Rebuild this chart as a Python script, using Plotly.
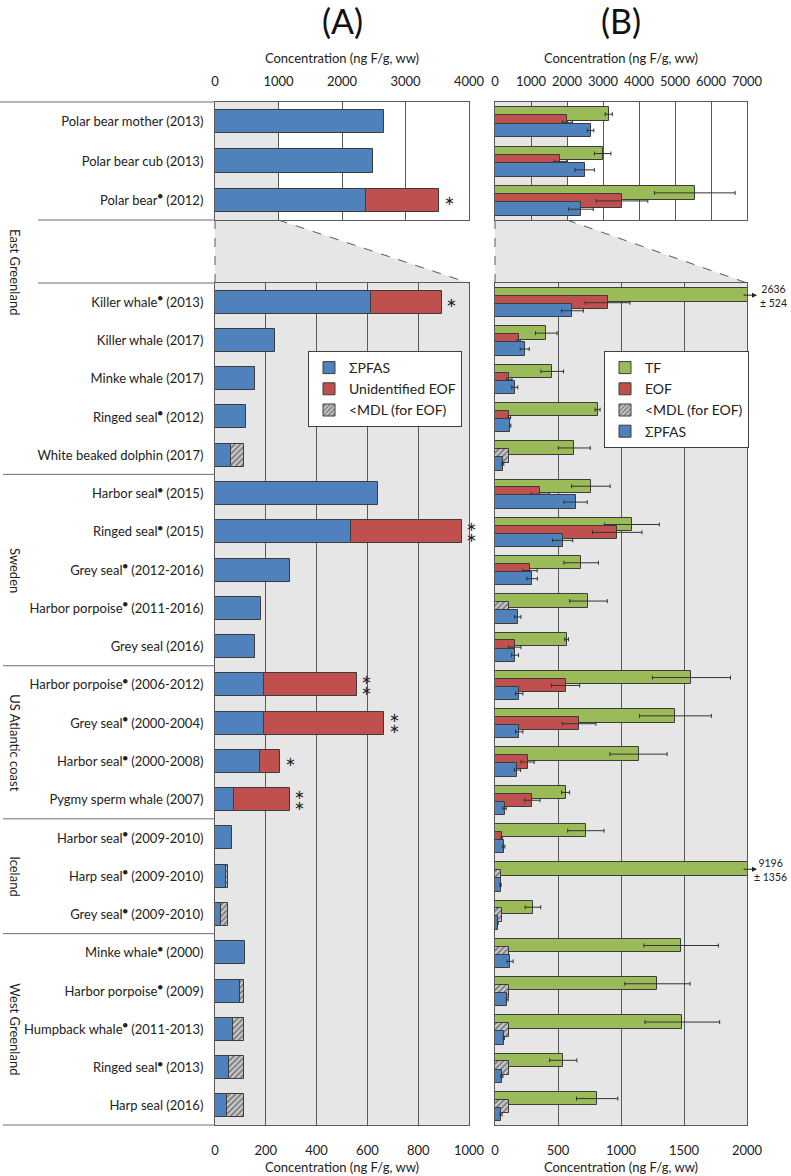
import plotly.graph_objects as go

W, H = 791, 1176
DOT = "<sup>●</sup>"


def px(x):
    return x / W


def py(y):
    return 1 - y / H


# ---- rows -------------------------------------------------------------
top_labels = ["Polar bear mother (2013)", "Polar bear cub (2013)", f"Polar bear{DOT} (2012)"]
bottom_labels = [
    f"Killer whale{DOT} (2013)", "Killer whale (2017)", "Minke whale (2017)",
    f"Ringed seal{DOT} (2012)", "White beaked dolphin (2017)",
    f"Harbor seal{DOT} (2015)", f"Ringed seal{DOT} (2015)", f"Grey seal{DOT} (2012-2016)",
    f"Harbor porpoise{DOT} (2011-2016)", "Grey seal (2016)",
    f"Harbor porpoise{DOT} (2006-2012)", f"Grey seal{DOT} (2000-2004)",
    f"Harbor seal{DOT} (2000-2008)", "Pygmy sperm whale (2007)",
    f"Harbor seal{DOT} (2009-2010)", f"Harp seal{DOT} (2009-2010)", f"Grey seal{DOT} (2009-2010)",
    f"Minke whale{DOT} (2000)", f"Harbor porpoise{DOT} (2009)",
    f"Humpback whale{DOT} (2011-2013)", f"Ringed seal{DOT} (2013)", "Harp seal (2016)",
]
groups = ["East Greenland", "Sweden", "US Atlantic coast", "Iceland", "West Greenland"]
group_sizes = [5, 5, 4, 3, 5]  # rows in the lower panels (East Greenland also owns the top panel)

# ---- values (ng F/g ww) ----------------------------------------------
pfas_top = [2655, 2490, 2385]
pfas_top_sd = [90, 270, 345]
pfas = [614, 236, 157, 121, 62, 640, 537, 294, 181, 159, 192, 192, 178, 76, 68, 44, 22,
        120, 97, 70, 55, 48]
pfas_sd = [87, 36, 24, 5, 8, 92, 80, 42, 25, 28, 29, 29, 25, 13, 10, 5, 3, 24, 8, 5, 8, 8]

eof_top = [2010, 1815, 3530]
eof_top_sd = [140, 175, 715]
eof = [893, 188, 114, 114, None, 359, 970, 277, None, 156, 560, 668, 259, 296, 53,
       None, None, None, None, None, None, None]
eof_sd = [178, 13, 21, 10, None, 73, 196, 58, None, 50, 112, 133, 52, 61, 5,
          None, None, None, None, None, None, None]
eof_mdl = [None, None, None, None, 114, None, None, None, 114, None, None, None, None, None, None,
           50, 53, 114, 114, 114, 114, 114]

tf_top = [3160, 2990, 5550]
tf_top_sd = [100, 230, 1120]
tf = [2636, 407, 454, 814, 629, 761, 1086, 684, 742, 568, 1559, 1432, 1139, 560, 721,
      9196, 301, 1477, 1289, 1487, 542, 811]
tf_sd = [524, 86, 90, 20, 127, 153, 218, 137, 149, 15, 310, 285, 227, 32, 144,
         1356, 62, 296, 259, 296, 108, 164]

# panel A: unidentified EOF and the <MDL part stacked on top of ΣPFAS
unid_top = [None, None, 1150]
unid = [279, None, None, None, None, None, 434, None, None, None, 366, 475, 79, 219,
        None, None, None, None, None, None, None, None]
mdl_a = [None, None, None, None, 52, None, None, None, None, None, None, None, None, None,
         None, 7, 29, None, 17, 44, 59, 66]
sig_top = ["", "", "*"]
sig = ["*", "", "", "", "", "", "**", "", "", "", "**", "**", "*", "**",
       "", "", "", "", "", "", "", ""]

# ---- styling ----------------------------------------------------------
BLUE, RED, GREEN = "#4f81bd", "#c0504d", "#9bbb59"
SHADE = "#e6e6e6"
GRID = "#595959"
EDGE = dict(color="#3c3c3c", width=1)
FONT = "Lato, Open Sans, sans-serif"
HATCH = dict(color="#d0d0d0", line=EDGE,
             pattern=dict(shape="/", fgcolor="#2a2a2a", bgcolor="#d0d0d0", size=4, solidity=0.5))

XA = [px(215), px(469)]
XB = [px(495), px(747)]
YT = [py(220), py(102)]
YB = [py(1125), py(283)]


def err(vals):
    return dict(type="data", array=vals, color="#333333", thickness=1, width=2)


fig = go.Figure()

# panel A, top + bottom (manual stacking via base)
for ax, labels, p, u, m, first in [("", top_labels, pfas_top, unid_top, None, False),
                                   ("2", bottom_labels, pfas, unid, mdl_a, True)]:
    fig.add_trace(go.Bar(y=labels, x=p, orientation="h", width=0.6, name="ΣPFAS",
                         marker=dict(color=BLUE, line=EDGE), xaxis="x" + ax, yaxis="y" + ax,
                         legend="legend", legendrank=1, showlegend=first))
    fig.add_trace(go.Bar(y=labels, x=u, base=p, orientation="h", width=0.6,
                         name="Unidentified EOF", marker=dict(color=RED, line=EDGE),
                         xaxis="x" + ax, yaxis="y" + ax, legend="legend", legendrank=2,
                         showlegend=first))
    if m is not None:
        fig.add_trace(go.Bar(y=labels, x=m, base=p, orientation="h", width=0.6,
                             name="<MDL (for EOF)", marker=HATCH, xaxis="x" + ax, yaxis="y" + ax,
                             legend="legend", legendrank=3, showlegend=True))

# panel B, three overlapping bars per row
BW = 0.35
for ax, labels, t, ts, e, es, md, p, ps, first in [
        ("3", top_labels, tf_top, tf_top_sd, eof_top, eof_top_sd, None, pfas_top, pfas_top_sd, False),
        ("4", bottom_labels, tf, tf_sd, eof, eof_sd, eof_mdl, pfas, pfas_sd, True)]:
    kw = dict(orientation="h", width=BW, xaxis="x" + ax, yaxis="y" + ax, legend="legend2")
    fig.add_trace(go.Bar(y=labels, x=t, offset=-0.365, name="TF", error_x=err(ts),
                         marker=dict(color=GREEN, line=EDGE), legendrank=1,
                         showlegend=first, **kw))
    fig.add_trace(go.Bar(y=labels, x=e, offset=-0.16, name="EOF", error_x=err(es),
                         marker=dict(color=RED, line=EDGE), legendrank=2,
                         showlegend=first, **kw))
    if md is not None:
        fig.add_trace(go.Bar(y=labels, x=md, offset=-0.16, name="<MDL (for EOF)",
                             marker=HATCH, legendrank=3, showlegend=True, **kw))
    fig.add_trace(go.Bar(y=labels, x=p, offset=0.05, name="ΣPFAS", error_x=err(ps),
                         marker=dict(color=BLUE, line=EDGE), legendrank=4,
                         showlegend=first, **kw))

# ---- axes -------------------------------------------------------------
tickfont = dict(family=FONT, size=13, color="#222")
xcommon = dict(showgrid=True, gridcolor=GRID, gridwidth=1, showline=True, linecolor=GRID,
               linewidth=1, mirror=True, zeroline=False, ticks="", tickfont=tickfont,
               automargin=False, title_font=dict(family=FONT, size=13, color="#222"))
ycommon = dict(type="category", showgrid=False, showline=True, linecolor=GRID, linewidth=1,
               mirror=True, ticks="", tickfont=tickfont, zeroline=False, automargin=False)
title = "Concentration (ng F/g, ww)"
top_x = dict(side="top", ticklabelstandoff=10, title=dict(text=title, standoff=6))
bot_x = dict(side="bottom", ticklabelstandoff=13, title=dict(text=title, standoff=6))

fig.update_layout(
    xaxis=dict(domain=XA, anchor="y", range=[0, 4000], dtick=1000, **top_x, **xcommon),
    yaxis=dict(domain=YT, anchor="x", categoryarray=top_labels, range=[2.5, -0.5],
               ticklabelstandoff=8, **ycommon),
    xaxis2=dict(domain=XA, anchor="y2", range=[0, 1000], dtick=200, **bot_x, **xcommon),
    yaxis2=dict(domain=YB, anchor="x2", categoryarray=bottom_labels,
                range=[len(bottom_labels) - 0.5, -0.5], ticklabelstandoff=8, **ycommon),
    xaxis3=dict(domain=XB, anchor="y3", range=[0, 7000], dtick=1000, **top_x, **xcommon),
    yaxis3=dict(domain=YT, anchor="x3", categoryarray=top_labels, range=[2.5, -0.5],
                showticklabels=False, **ycommon),
    xaxis4=dict(domain=XB, anchor="y4", range=[0, 2000], dtick=500, **bot_x, **xcommon),
    yaxis4=dict(domain=YB, anchor="x4", categoryarray=bottom_labels,
                range=[len(bottom_labels) - 0.5, -0.5], showticklabels=False, **ycommon),
)

# ---- shading, zoom wedges, separators --------------------------------
shapes = []
shapes.append(dict(type="rect", xref="x", yref="y domain", x0=0, x1=1000, y0=0, y1=1,
                   fillcolor=SHADE, line_width=0, layer="below"))
shapes.append(dict(type="rect", xref="x3", yref="y3 domain", x0=0, x1=2000, y0=0, y1=1,
                   fillcolor=SHADE, line_width=0, layer="below"))
for xa, ya in [("x2", "y2"), ("x4", "y4")]:
    shapes.append(dict(type="rect", xref=xa + " domain", yref=ya + " domain", x0=0, x1=1,
                       y0=0, y1=1, fillcolor=SHADE, line_width=0, layer="below"))

for dom, frac in [(XA, 1000 / 4000), (XB, 2000 / 7000)]:
    xl, xr = dom
    xz = xl + frac * (xr - xl)
    shapes.append(dict(type="path", xref="paper", yref="paper",
                       path=f"M{xl},{YT[0]} L{xz},{YT[0]} L{xr},{YB[1]} L{xl},{YB[1]} Z",
                       fillcolor=SHADE, line_width=0, layer="below"))
    shapes.append(dict(type="line", xref="paper", yref="paper", x0=xl, x1=xl, y0=YT[0], y1=YB[1],
                       line=dict(color=GRID, width=1, dash="dash")))
    shapes.append(dict(type="line", xref="paper", yref="paper", x0=xz, x1=xr, y0=YT[0], y1=YB[1],
                       line=dict(color=GRID, width=1, dash="dash")))

sep = dict(color="#6f6f6f", width=1)
shapes.append(dict(type="line", xref="paper", yref="paper", x0=0, x1=XA[0], y0=YT[1], y1=YT[1], line=sep))
shapes.append(dict(type="line", xref="paper", yref="paper", x0=px(38), x1=XA[0], y0=YT[0], y1=YT[0], line=sep))
shapes.append(dict(type="line", xref="paper", yref="paper", x0=px(38), x1=XA[0], y0=YB[1], y1=YB[1], line=sep))
shapes.append(dict(type="line", xref="paper", yref="paper", x0=px(3), x1=XA[0], y0=YB[0], y1=YB[0], line=sep))
edge = 0
for n in group_sizes[:-1]:
    edge += n
    shapes.append(dict(type="line", xref="paper", yref="y2", x0=px(3), x1=XA[0],
                       y0=edge - 0.5, y1=edge - 0.5, line=sep))
fig.update_layout(shapes=shapes)

# ---- annotations ------------------------------------------------------
ann = []
gfont = dict(family=FONT, size=13, color="#222")
ann.append(dict(text=groups[0], xref="paper", yref="paper", x=px(15), y=py(272),
                xanchor="center", yanchor="middle", textangle=90, showarrow=False, font=gfont))
start = group_sizes[0]
for g, n in zip(groups[1:], group_sizes[1:]):
    ann.append(dict(text=g, xref="paper", yref="y2", x=px(15), y=start + (n - 1) / 2,
                    xanchor="center", yanchor="middle", textangle=90, showarrow=False,
                    font=gfont))
    start += n

for lab, dom in [("(A)", XA), ("(B)", XB)]:
    ann.append(dict(text=lab, xref="paper", yref="paper", x=(dom[0] + dom[1]) / 2, y=py(20),
                    xanchor="center", yanchor="middle", showarrow=False,
                    font=dict(family=FONT, size=34, color="#111")))

star_font = dict(family="DejaVu Sans", size=13, color="#222")
for xa, ya, labels, p, u, s in [("x", "y", top_labels, pfas_top, unid_top, sig_top),
                                ("x2", "y2", bottom_labels, pfas, unid, sig)]:
    for lab, pv, uv, sv in zip(labels, p, u, s):
        if not sv:
            continue
        total = pv + (uv or 0)
        shifts = [0] if len(sv) == 1 else [5.5, -5.5]
        for ysh in shifts:
            ann.append(dict(text="∗", xref=xa, yref=ya, x=total, y=lab, xshift=10, yshift=ysh,
                            showarrow=False, font=star_font))

# off-scale TF values in panel B
for i in range(len(bottom_labels)):
    if tf[i] > 2000:
        ann.append(dict(text="", xref="paper", yref="y4", x=px(757), y=bottom_labels[i],
                        yshift=7, showarrow=True, ax=-15, ay=0, arrowhead=2, arrowsize=1,
                        arrowwidth=1, arrowcolor="#222"))
        ann.append(dict(text=f"{tf[i]}<br>± {tf_sd[i]}", xref="paper", yref="y4", x=px(789),
                        y=bottom_labels[i], yshift=6, xanchor="right", showarrow=False,
                        align="center", font=dict(family=FONT, size=10.5, color="#222")))
fig.update_layout(annotations=ann)

# ---- legends + layout -------------------------------------------------
lfont = dict(family=FONT, size=14, color="#222")
fig.update_layout(
    width=W, height=H, barmode="overlay",
    margin=dict(l=0, r=0, t=0, b=0),
    paper_bgcolor="white", plot_bgcolor="white",
    font=dict(family=FONT, size=13, color="#222"),
    legend=dict(x=px(308), y=py(351), xanchor="left", yanchor="top", bgcolor="white",
                bordercolor="#404040", borderwidth=1, font=lfont, tracegroupgap=0,
                itemwidth=30),
    legend2=dict(x=px(604), y=py(351), xanchor="left", yanchor="top", bgcolor="white",
                 bordercolor="#404040", borderwidth=1, font=lfont, tracegroupgap=0,
                 itemwidth=30),
    bargap=0,
)

# drop the default page margin so the figure fills the window exactly
fig.write_html("out.html", config={"displayModeBar": False},
               post_script="document.body.style.margin='0';document.body.style.overflow='hidden';")
